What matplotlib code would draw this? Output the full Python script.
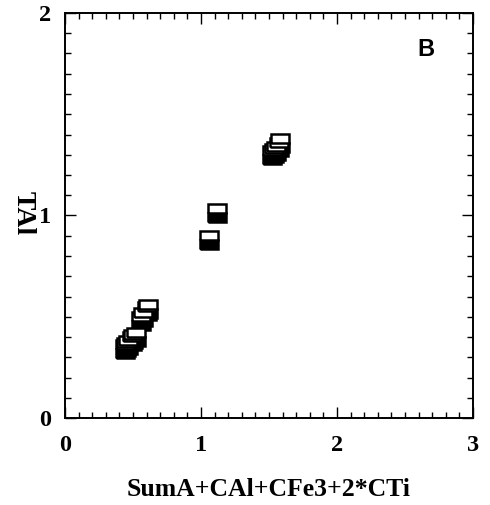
import numpy as np
from matplotlib import pyplot as plt
from matplotlib.ticker import MultipleLocator

# points
x_val = [0.44, 0.45, 0.46, 0.49, 0.50, 0.52, 0.56, 0.57, 0.60, 0.61,
         1.06, 1.12, 1.52, 1.54, 1.55, 1.57, 1.58]
y_val = [0.34, 0.35, 0.36, 0.38, 0.39, 0.40, 0.48, 0.50, 0.53, 0.54,
         0.88, 1.01, 1.30, 1.31, 1.32, 1.34, 1.36]

x_ticks = [0, 1, 2, 3]
y_ticks = [0, 1, 2]

fig = plt.figure(figsize=(4.9, 5.05), dpi=100)
ax = fig.add_axes([65/490, 1-418/505, 408/490, 405/505])

ax.plot(x_val, y_val, 's', ms=13.5, mfc='black', mfcalt='white',
        fillstyle='bottom', mec='black', mew=1.8, ls='none')

ax.set_xlim(0, 3)
ax.set_ylim(0, 2)
ax.set_xticks(x_ticks)
ax.set_yticks(y_ticks)
ax.xaxis.set_minor_locator(MultipleLocator(0.1))
ax.yaxis.set_minor_locator(MultipleLocator(0.1))
ax.tick_params(which='both', direction='in', top=True, right=True, width=1)
ax.tick_params(which='major', length=8)
ax.tick_params(which='minor', length=4)
ax.tick_params(axis='x', pad=12)
ax.tick_params(axis='y', pad=10)
for s in ax.spines.values():
    s.set_linewidth(1.4)

for lab in ax.get_xticklabels() + ax.get_yticklabels():
    lab.set_fontfamily('Liberation Serif')
    lab.set_fontweight('bold')
    lab.set_fontsize(17.5)

ax.set_xlabel('SumA+CAl+CFe3+2*CTi', fontdict=dict(family='Liberation Serif', weight='bold', size=18.5), labelpad=16)
ax.set_ylabel('TAl', fontdict=dict(family='Liberation Serif', weight='bold', size=20), rotation=270)
ax.yaxis.label.set_ha('center')
ax.yaxis.label.set_va('center')
ax.yaxis.set_label_coords(-0.103, 0.505)

ax.text(0.885, 0.911, 'B', transform=ax.transAxes, ha='center', va='center',
        family='Liberation Sans', weight='bold', size=17)

fig.savefig('out.png', dpi=100)
